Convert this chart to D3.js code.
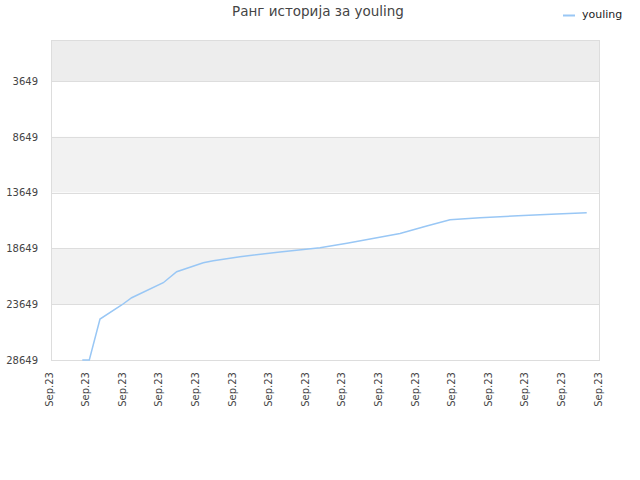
<!DOCTYPE html>
<html><head><meta charset="utf-8">
<script src="https://cdn.jsdelivr.net/npm/d3@7/dist/d3.min.js"></script>
<style>body{margin:0;background:#fff;}svg{display:block;font-family:"DejaVu Sans",sans-serif;}</style>
</head><body><div id="chart"></div>
<script>
const title = "Ранг историја за youling";
const seriesName = "youling";
const xTickLabels = ["Sep.23","Sep.23","Sep.23","Sep.23","Sep.23","Sep.23","Sep.23","Sep.23","Sep.23","Sep.23","Sep.23","Sep.23","Sep.23","Sep.23","Sep.23","Sep.23"];
const yTicks = [3649, 8649, 13649, 18649, 23649, 28649];
const xValues = [0.855, 1.046, 1.339, 1.932, 2.205, 3.068, 3.434, 4.161, 4.434, 5.164, 6.257, 7.350, 8.087, 9.536, 10.265, 10.902, 11.721, 12.760, 13.817, 14.637];
const ranks = [28649, 28649, 24975, 23721, 23067, 21723, 20737, 19931, 19752, 19393, 18972, 18587, 18193, 17315, 16643, 16078, 15899, 15720, 15567, 15451];

const W = 640, H = 480;
const m = {left: 51, right: 40, top: 40, bottom: 120};
const svg = d3.select("#chart").append("svg").attr("width", W).attr("height", H);
const x = d3.scaleLinear().domain([0, xTickLabels.length - 1]).range([m.left, W - m.right]);
const y = d3.scaleLinear().domain([-25, 28649]).range([m.top, H - m.bottom]);

// bands
const edges = [y.domain()[0], ...yTicks];
for (let i = 0; i < edges.length - 1; i++) {
  const fill = i === 0 ? "#ededed" : (i % 2 === 0 ? "#f2f2f2" : "#ffffff");
  svg.append("rect").attr("x", m.left).attr("width", W - m.right - m.left)
    .attr("y", y(edges[i])).attr("height", y(edges[i+1]) - y(edges[i])).attr("fill", fill);
}
// gridlines
svg.append("g").selectAll("line").data(yTicks).join("line")
  .attr("x1", m.left).attr("x2", W - m.right)
  .attr("y1", d => Math.round(y(d)) + 0.5).attr("y2", d => Math.round(y(d)) + 0.5)
  .attr("stroke", "#dddddd");
// border
svg.append("rect").attr("x", m.left + 0.5).attr("y", m.top + 0.5)
  .attr("width", W - m.right - m.left - 1).attr("height", H - m.bottom - m.top)
  .attr("fill", "none").attr("stroke", "#dddddd");

// y axis labels
const yAxis = d3.axisLeft(y).tickValues(yTicks).tickFormat(d3.format("d")).tickSize(0).tickPadding(13);
const gy = svg.append("g").attr("transform", `translate(${m.left},0)`).call(yAxis);
gy.select(".domain").remove();
gy.selectAll("text").attr("font-size", 10).attr("fill", "#444").attr("font-family", "DejaVu Sans, sans-serif");

// x axis labels
const xAxis = d3.axisBottom(x).tickValues(d3.range(xTickLabels.length)).tickFormat(i => xTickLabels[i]).tickSize(0);
const gx = svg.append("g").attr("transform", `translate(0,${H - m.bottom})`).call(xAxis);
gx.select(".domain").remove();
gx.selectAll("text").attr("font-size", 10).attr("fill", "#444").attr("font-family", "DejaVu Sans, sans-serif")
  .attr("transform", "rotate(-90)").attr("text-anchor", "end").attr("dy", "0.1em").attr("x", -12).attr("y", 0);

// line
const data = xValues.map((v, i) => [v, ranks[i]]);
svg.append("path").datum(data)
  .attr("d", d3.line().x(d => x(d[0])).y(d => y(d[1])))
  .attr("fill", "none").attr("stroke", "#99c7f5").attr("stroke-width", 1.5);

// title
svg.append("text").attr("x", 318).attr("y", 16).attr("text-anchor", "middle")
  .attr("font-size", 13.5).attr("fill", "#444").text(title);
// legend
svg.append("line").attr("x1", 563).attr("x2", 575).attr("y1", 15.5).attr("y2", 15.5)
  .attr("stroke", "#99c7f5").attr("stroke-width", 2);
svg.append("text").attr("x", 582).attr("y", 18).attr("font-size", 11).attr("fill", "#222").text(seriesName);
</script></body></html>
